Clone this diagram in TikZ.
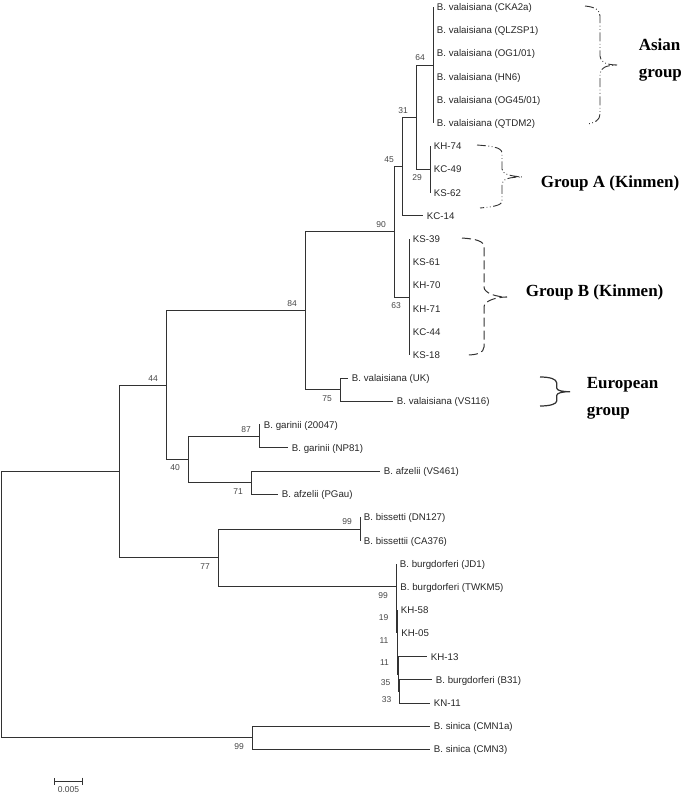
\documentclass[tikz,border=0pt]{standalone}
\usepackage{fontspec}
\setmainfont{Liberation Sans}
\newfontfamily\grpfont{Liberation Serif}
\usetikzlibrary{arrows.meta}
\definecolor{branch}{RGB}{50,50,50}
\definecolor{bstext}{RGB}{70,70,70}

\begin{document}
\begin{tikzpicture}[x=1pt,y=-1pt,line width=0.9pt,color=branch,
  leaf/.style={anchor=west,inner xsep=3.5pt,inner ysep=0pt,text height=7pt,text depth=0pt,font=\fontsize{9.7}{11}\selectfont,text=black!85},
  bs/.style={inner sep=0pt,xshift=-13pt,font=\fontsize{8.5}{9}\selectfont,text=bstext},
  bsup/.style={bs,yshift=7pt},
  bsdn/.style={bs,yshift=-8.5pt},
  grp/.style={anchor=west,align=left,text=black,font=\grpfont\bfseries\fontsize{17}{27}\selectfont},
  ddot/.style={line width=0.9pt,dash pattern=on 9pt off 2.5pt on 0.8pt off 2.5pt on 0.8pt off 2.5pt},
  dsh/.style={line width=1pt,dash pattern=on 9pt off 4pt}]
  \useasboundingbox (0,0) rectangle (685,795);

  % taxa
  \node[leaf] (cka) at (433,7) {B. valaisiana (CKA2a)};
  \node[leaf] (qlz) at (433,30.2) {B. valaisiana (QLZSP1)};
  \node[leaf] (og1) at (433,53.4) {B. valaisiana (OG1/01)};
  \node[leaf] (hn6) at (433,76.6) {B. valaisiana (HN6)};
  \node[leaf] (og45) at (433,99.8) {B. valaisiana (OG45/01)};
  \node[leaf] (qtdm) at (433,123) {B. valaisiana (QTDM2)};
  \node[leaf] (kh74) at (430,146.2) {KH-74};
  \node[leaf] (kc49) at (430,169.4) {KC-49};
  \node[leaf] (ks62) at (430,192.6) {KS-62};
  \node[leaf] (kc14) at (423,215.8) {KC-14};
  \node[leaf] (ks39) at (409,239) {KS-39};
  \node[leaf] (ks61) at (409,262.2) {KS-61};
  \node[leaf] (kh70) at (409,285.4) {KH-70};
  \node[leaf] (kh71) at (409,308.6) {KH-71};
  \node[leaf] (kc44) at (409,331.8) {KC-44};
  \node[leaf] (ks18) at (409,355) {KS-18};
  \node[leaf] (uk) at (348,378.2) {B. valaisiana (UK)};
  \node[leaf] (vs116) at (393,401.4) {B. valaisiana (VS116)};
  \node[leaf] (g20047) at (260,424.6) {B. garinii (20047)};
  \node[leaf] (np81) at (288,447.8) {B. garinii (NP81)};
  \node[leaf] (vs461) at (380,471) {B. afzelii (VS461)};
  \node[leaf] (pgau) at (278,494.2) {B. afzelii (PGau)};
  \node[leaf] (dn127) at (360,517.4) {B. bissetti (DN127)};
  \node[leaf] (ca376) at (360,540.6) {B. bissettii (CA376)};
  \node[leaf] (jd1) at (396,563.8) {B. burgdorferi (JD1)};
  \node[leaf] (twkm5) at (396.5,587) {B. burgdorferi (TWKM5)};
  \node[leaf] (kh58) at (397,610.2) {KH-58};
  \node[leaf] (kh05) at (397.5,633.4) {KH-05};
  \node[leaf] (kh13) at (427,656.6) {KH-13};
  \node[leaf] (bb31) at (432,679.8) {B. burgdorferi (B31)};
  \node[leaf] (kn11) at (430,703) {KN-11};
  \node[leaf] (cmn1a) at (430,726.2) {B. sinica (CMN1a)};
  \node[leaf] (cmn3) at (430,749.4) {B. sinica (CMN3)};

  % internal nodes
  \coordinate (n64) at (433,65);
  \coordinate (n29) at (430,169.4);
  \coordinate (n31) at (416,117.2);
  \coordinate (n45) at (402,166.5);
  \coordinate (n63) at (409,297);
  \coordinate (n90) at (394,231.75);
  \coordinate (n75) at (340,389.8);
  \coordinate (n84) at (305,310.8);
  \coordinate (n87) at (259,436.2);
  \coordinate (n71) at (251,482.6);
  \coordinate (n40) at (188,459.4);
  \coordinate (n44) at (166,385.1);
  \coordinate (n99a) at (360,529);
  \coordinate (n33) at (399.5,691.4);
  \coordinate (n35) at (398.5,674);
  \coordinate (n11b) at (397.5,653.7);
  \coordinate (n11a) at (397,632);
  \coordinate (n19) at (396.5,609.5);
  \coordinate (n99b) at (396,586.6);
  \coordinate (n77) at (218,557.8);
  \coordinate (n1) at (119,471.5);
  \coordinate (nsin) at (252,737.8);
  \coordinate (root) at (1,604.6);

  % branches
  \draw (n64) |- (cka.west) (n64) |- (qlz.west) (n64) |- (og1.west)
        (n64) |- (hn6.west) (n64) |- (og45.west) (n64) |- (qtdm.west);
  \draw (n29) |- (kh74.west) (n29) |- (kc49.west) (n29) |- (ks62.west);
  \draw (n31) |- (n64) (n31) |- (n29);
  \draw (n45) |- (n31) (n45) |- (kc14.west);
  \draw (n63) |- (ks39.west) (n63) |- (ks61.west) (n63) |- (kh70.west)
        (n63) |- (kh71.west) (n63) |- (kc44.west) (n63) |- (ks18.west);
  \draw (n90) |- (n45) (n90) |- (n63);
  \draw (n75) |- (uk.west) (n75) |- (vs116.west);
  \draw (n84) |- (n90) (n84) |- (n75);
  \draw (n87) |- (g20047.west) (n87) |- (np81.west);
  \draw (n71) |- (vs461.west) (n71) |- (pgau.west);
  \draw (n40) |- (n87) (n40) |- (n71);
  \draw (n44) |- (n84) (n44) |- (n40);
  \draw (n99a) |- (dn127.west) (n99a) |- (ca376.west);
  \draw (n33) |- (bb31.west) (n33) |- (kn11.west);
  \draw (n35) |- (kh13.west) (n35) |- (n33);
  \draw (n11b) |- (kh05.west) (n11b) |- (n35);
  \draw (n11a) |- (kh58.west) (n11a) |- (n11b);
  \draw (n19) |- (twkm5.west) (n19) |- (n11a);
  \draw (n99b) |- (jd1.west) (n99b) |- (n19);
  \draw (n77) |- (n99a) (n77) |- (n99b);
  \draw (n1) |- (n44) (n1) |- (n77);
  \draw (nsin) |- (cmn1a.west) (nsin) |- (cmn3.west);
  \draw (root) |- (n1) (root) |- (nsin);

  % bootstrap values
  \node[bsup] (bs64) at (n64) {64};
  \node[bsup] (bs31) at (n31) {31};
  \node[bsdn] (bs29) at (n29) {29};
  \node[bsup] (bs45) at (n45) {45};
  \node[bsup] (bs90) at (n90) {90};
  \node[bsdn] (bs63) at (n63) {63};
  \node[bsup] (bs84) at (n84) {84};
  \node[bsdn] (bs75) at (n75) {75};
  \node[bsup] (bs44) at (n44) {44};
  \node[bsup] (bs87) at (n87) {87};
  \node[bsdn] (bs40) at (n40) {40};
  \node[bsdn] (bs71) at (n71) {71};
  \node[bsup] (bs99a) at (n99a) {99};
  \node[bsdn] (bs77) at (n77) {77};
  \node[bsdn] (bs99b) at (n99b) {99};
  \node[bsdn] (bs19) at (n19) {19};
  \node[bsdn] (bs11a) at (n11a) {11};
  \node[bsdn] (bs11b) at (n11b) {11};
  \node[bsdn] (bs35) at (n35) {35};
  \node[bsdn] (bs33) at (n33) {33};
  \node[bsdn] (bs99c) at (nsin) {99};

  % group braces
  \draw[ddot] (585,6) .. controls (595,7) and (600,10) .. (600,16) -- (600,56)
    .. controls (600,62) and (606,65) .. (618,65)
    .. controls (606,65) and (600,68) .. (600,74) -- (600,114)
    .. controls (600,120) and (595,123) .. (587,124);
  \draw[ddot] (477,145) .. controls (490,146) and (502,147) .. (502,153) -- (502,169)
    .. controls (502,174) and (510,176) .. (522,177)
    .. controls (510,177) and (502,179) .. (502,184) -- (502,201)
    .. controls (502,206) and (490,207) .. (480,208);
  \draw[dsh] (462,238) .. controls (476,239) and (484,241) .. (484,247) -- (484,287)
    .. controls (484,293) and (496,297) .. (507,297)
    .. controls (496,297) and (484,301) .. (484,307) -- (484,347)
    .. controls (484,353) and (476,355) .. (467,355);
  \draw[line width=1.2pt] (540,377) .. controls (550,377) and (556.7,379) .. (556.7,383) -- (556.7,388)
    .. controls (556.7,390.5) and (562,391.7) .. (570,391.7)
    .. controls (562,391.7) and (556.7,393) .. (556.7,395.5) -- (556.7,401)
    .. controls (556.7,404) and (550,406) .. (540,406);

  \node[grp] (asian) at (635,60) {Asian\\group};
  \node[grp] (grpa) at (537,183) {Group A (Kinmen)};
  \node[grp] (grpb) at (522,292) {Group B (Kinmen)};
  \node[grp] (europ) at (583,398.5) {European\\group};

  % scale bar
  \coordinate (sbl) at (54,781);
  \coordinate (sbr) at (83,781);
  \draw[{Bar[width=7pt]}-{Bar[width=7pt]}] (sbl) -- (sbr);
  \node[inner sep=0pt,font=\fontsize{8.5}{9}\selectfont,text=bstext] (sblab) at (68.5,790) {0.005};
\end{tikzpicture}
\end{document}
